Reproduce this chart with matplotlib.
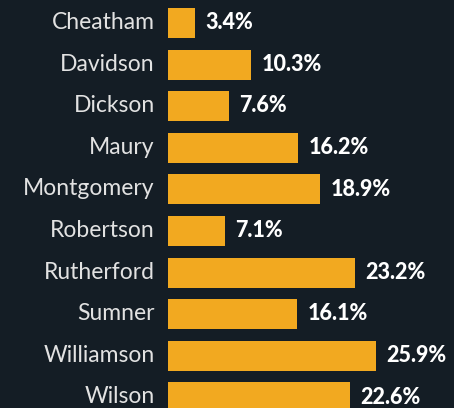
import matplotlib.pyplot as plt

counties = ['Cheatham', 'Davidson', 'Dickson', 'Maury', 'Montgomery',
            'Robertson', 'Rutherford', 'Sumner', 'Williamson', 'Wilson']
shares = [3.4, 10.3, 7.6, 16.2, 18.9, 7.1, 23.2, 16.1, 25.9, 22.6]

bg = '#141d25'
bar_color = '#f2a920'
fam = ['Lato', 'DejaVu Sans']

fig = plt.figure(figsize=(4.54, 4.08), dpi=100, facecolor=bg)
ax = fig.add_axes([168 / 454, 0, 1 - 168 / 454, 1])
ax.set_facecolor(bg)

pos = list(range(len(counties)))
ax.barh(pos, shares, height=0.72, color=bar_color)

for y, name, v in zip(pos, counties, shares):
    # county name left of the bar
    ax.annotate(name, (0, y), xytext=(-9.5, 0.4), textcoords='offset points',
                va='center', ha='right', color='#e2e2e2', fontsize=16.5,
                family=fam, annotation_clip=False)
    # value label right of the bar
    ax.annotate(f'{v}%', (v, y), xytext=(7.5, 0.2), textcoords='offset points',
                va='center', ha='left', color='white', fontsize=15.5,
                fontweight='black', family=fam)

ax.set_xticks([])
ax.set_yticks([])
ax.set_xlim(0, 35.57)
ax.set_ylim(9.255, -0.553)
for s in ax.spines.values():
    s.set_visible(False)

fig.savefig('out.png', dpi=100, facecolor=bg)
